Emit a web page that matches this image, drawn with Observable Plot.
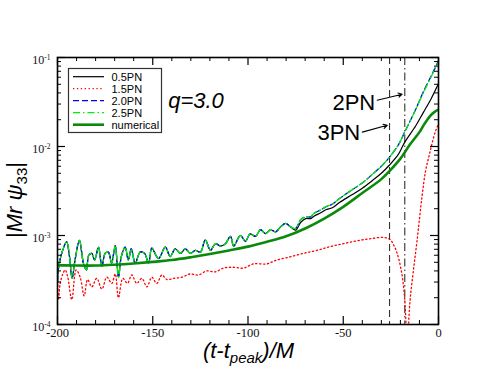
<!DOCTYPE html>
<html><head><meta charset="utf-8">
<script src="https://cdn.jsdelivr.net/npm/d3@7"></script>
<script src="https://cdn.jsdelivr.net/npm/@observablehq/plot@0.6"></script>
<style>body{margin:0;background:#fff}#chart{width:494px;height:382px}</style>
</head><body><div id="chart"></div>
<script>
// ---------- data (t in M, |Mr psi33|) ----------
const inspiralEarly = [
 [-200,3.0e-4],[-199.6,4.1e-4],[-197.8,6.3e-4],[-195.2,8.5e-4],[-193.8,6.0e-4],[-192.3,3.3e-4],
 [-190.8,5.3e-4],[-188.5,8.8e-4],[-186.4,4.9e-4],[-184.8,4.1e-4],[-183.6,6.0e-4],[-182,6.3e-4],
 [-180.5,5.3e-4],[-178.5,7.4e-4],[-176.7,4.5e-4],[-175,6.3e-4],[-173.3,6.5e-4],[-171.6,4.9e-4],
 [-169.7,7.7e-4],[-168,3.4e-4],[-166.5,5.8e-4],[-164.5,7.4e-4],[-162.8,5.3e-4],[-161.3,7.1e-4],
 [-159.2,4.9e-4],[-156.6,6.5e-4],[-154.3,6.3e-4],[-152.2,4.9e-4],[-150.5,7.2e-4],[-147,5.5e-4],
 [-143.4,7.4e-4],[-140.8,5.8e-4],[-138.2,7.1e-4],[-135.5,6.3e-4],[-132.9,7.1e-4],[-130.3,6.3e-4],
 [-127.6,6.8e-4],[-125,6.5e-4],[-122.4,8.9e-4],[-119.7,6.8e-4],[-117.1,8.1e-4],[-114.5,7.6e-4],
 [-111.8,8.1e-4],[-109.2,9.8e-4],[-107.5,7.6e-4],[-104,1.0e-3],[-101.3,8.6e-4],[-99,1.04e-3],
 [-96.1,9.8e-4],[-93.4,1.16e-3],[-90.8,1.05e-3],[-88.2,1.16e-3],[-85.5,1.1e-3],[-82.9,1.25e-3],
 [-80.3,1.37e-3],[-77.6,1.25e-3]
];
const pn05Tail = [
 [-75,1.15e-3],[-72.4,1.4e-3],[-69.7,1.55e-3],[-67.1,1.55e-3],[-65.4,1.65e-3],[-61.8,1.8e-3],
 [-59.2,1.95e-3],[-55.7,2.05e-3],[-52,2.35e-3],[-45,2.9e-3],[-40,3.4e-3],[-35,4.1e-3],
 [-30,5.0e-3],[-25.7,6.2e-3],[-21,8.2e-3],[-17.7,1.12e-2],[-12,1.7e-2],[-8,2.4e-2],[-4,3.4e-2],[0,5.1e-2]
];
const pn20Tail = [
 [-75,1.2e-3],[-72.4,1.5e-3],[-69.7,1.62e-3],[-67.1,1.62e-3],[-65.4,1.77e-3],[-61.8,1.94e-3],
 [-59.2,2.1e-3],[-55.7,2.25e-3],[-52,2.6e-3],[-45,3.3e-3],[-40,3.9e-3],[-35,4.8e-3],
 [-30,6.0e-3],[-25.7,7.6e-3],[-21,1.05e-2],[-17.7,1.46e-2],[-12,2.6e-2],[-8,4.1e-2],[-4,6.1e-2],[0,9.2e-2]
];
const pn25Tail = [
 [-75,1.2e-3],[-72.4,1.5e-3],[-69.7,1.62e-3],[-67.1,1.62e-3],[-65.4,1.77e-3],[-61.8,1.94e-3],
 [-59.2,2.1e-3],[-55.7,2.25e-3],[-52,2.6e-3],[-45,3.3e-3],[-40,3.9e-3],[-35,4.8e-3],
 [-30,6.0e-3],[-25.7,7.6e-3],[-21,1.05e-2],[-17.7,1.46e-2],[-12,2.6e-2],[-8,4.0e-2],[-4,6.0e-2],[0,9.0e-2]
];
const pn15 = [
 [-200,3.4e-4],[-199.5,1.9e-4],[-198.6,2.9e-4],[-197.2,3.7e-4],[-196,4.1e-4],[-194.6,3.4e-4],
 [-192.5,1.9e-4],[-190.2,4.1e-4],[-188.1,3.4e-4],[-186,2.1e-4],[-184.2,3.2e-4],[-182,2.65e-4],
 [-179.4,3.3e-4],[-176.7,2.5e-4],[-174.1,3.4e-4],[-171.5,2.9e-4],[-169.7,3.7e-4],[-168,2.0e-4],
 [-165.7,3.3e-4],[-163.3,2.9e-4],[-161,3.6e-4],[-158.4,2.9e-4],[-155.7,3.3e-4],[-153.1,2.65e-4],
 [-150.5,3.4e-4],[-147.9,2.9e-4],[-145.2,3.6e-4],[-142.6,3.2e-4],[-139.1,3.3e-4],[-134.7,3.4e-4],
 [-130.4,3.7e-4],[-126,3.6e-4],[-121.6,4.0e-4],[-117.2,3.9e-4],[-112.9,4.3e-4],[-107.6,4.4e-4],
 [-102.4,4.3e-4],[-97.1,4.8e-4],[-90.1,4.8e-4],[-84.9,5.3e-4],[-77.9,5.75e-4],[-70.9,6.3e-4],
 [-63.9,6.8e-4],[-56.9,7.5e-4],[-49.9,8.1e-4],[-42.9,8.7e-4],[-35.9,9.2e-4],[-28.9,9.5e-4],
 [-25.4,9.0e-4],[-23.5,7.8e-4],[-21.7,6.3e-4],[-19.6,4.1e-4],[-18.2,2.5e-4],[-17.2,1.2e-4],
 [-16.4,3e-5],[-15.6,1.1e-4],[-14.8,2.0e-4],[-13.2,4.0e-4],[-11.2,9e-4],[-8.6,2.8e-3],
 [-6.8,5.3e-3],[-5,7.8e-3],[-3.3,1.1e-2],[-1.5,1.5e-2],[0,1.8e-2]
];
const numerical = [
 [-200,4.65e-4],[-190,4.6e-4],[-180,4.6e-4],[-170,4.7e-4],[-160,4.85e-4],[-150,5.05e-4],
 [-140,5.3e-4],[-130,5.7e-4],[-120,6.2e-4],[-110,6.8e-4],[-100,7.5e-4],[-90,8.5e-4],
 [-80,9.8e-4],[-70,1.2e-3],[-60,1.55e-3],[-50,2.1e-3],[-40,3.0e-3],[-30,4.3e-3],[-25,5.5e-3],
 [-20,7.3e-3],[-15,1.05e-2],[-10,1.45e-2],[-7.7,1.75e-2],[-4,2.25e-2],[-2,2.45e-2],[0,2.6e-2]
];
const pnMarkers = [-25.7, -17.7];            // 3PN (dashed) and 2PN (dash-dot) vertical lines
const labels = [
 {t:-141.9, v:3.23e-2, text:"q=3.0", anchor:"start", style:"italic"},
 {t:-33.2,  v:3.07e-2, text:"2PN",   anchor:"end",   style:"normal"},
 {t:-41.1,  v:1.41e-2, text:"3PN",   anchor:"end",   style:"normal"}
];
const arrows = [
 {t1:-32.2, v1:3.31e-2, t2:-19.05, v2:3.87e-2},
 {t1:-40.0, v1:1.45e-2, t2:-26.9,  v2:1.73e-2}
];
const xTicks = [-200,-150,-100,-50,0];
const yTicks = [1e-4,1e-3,1e-2,1e-1];
const legendNames = ["0.5PN","1.5PN","2.0PN","2.5PN","numerical"];

const pn05 = inspiralEarly.concat(pn05Tail);
const pn20 = inspiralEarly.concat(pn20Tail);
const pn25 = inspiralEarly.concat(pn25Tail);

// ---------- layout ----------
const W=494, H=382, mL=57, mR=56, mT=57, mB=58;
const iw=W-mL-mR, ih=H-mT-mB;
const xMinor = d3.range(-200, 1, 10).filter(d => !xTicks.includes(d));
const yMinor = [];
for (const e of [-4,-3,-2]) for (let k=2;k<=9;k++) yMinor.push(k*Math.pow(10,e));
const serif = "'Liberation Serif','Times New Roman',serif";
const sans = "'Liberation Sans',Arial,Helvetica,sans-serif";
const X = d => d[0], Y = d => d[1];
const styles = {
  pn05: {stroke:"#000", strokeWidth:1.2},
  pn15: {stroke:"#ff0000", strokeWidth:1.3, strokeDasharray:"1.3,2.6"},
  pn20: {stroke:"#0000ff", strokeWidth:1.3, strokeDasharray:"6,3"},
  pn25: {stroke:"#00ee00", strokeWidth:1.3, strokeDasharray:"7,3,1.5,3"},
  num:  {stroke:"#0a8a0a", strokeWidth:2.6}
};

const plot = Plot.plot({
  width: W, height: H,
  marginLeft: mL, marginRight: mR, marginTop: mT, marginBottom: mB,
  style: {background: "white", overflow: "visible", color: "#000"},
  x: {domain: [-200, 0]},
  y: {type: "log", domain: [1e-4, 1e-1]},
  marks: [
    Plot.ruleX([pnMarkers[0]], {stroke:"#333", strokeWidth:1.1, strokeDasharray:"7,4"}),
    Plot.ruleX([pnMarkers[1]], {stroke:"#333", strokeWidth:1.1, strokeDasharray:"8,3,1.5,3"}),
    Plot.line(pn05, {x:X, y:Y, curve:"catmull-rom", ...styles.pn05, clip:true}),
    Plot.line(pn15, {x:X, y:Y, curve:"catmull-rom", ...styles.pn15, clip:true}),
    Plot.line(pn20, {x:X, y:Y, curve:"catmull-rom", ...styles.pn20, clip:true}),
    Plot.line(pn25, {x:X, y:Y, curve:"catmull-rom", ...styles.pn25, clip:true}),
    Plot.line(numerical, {x:X, y:Y, curve:"catmull-rom", ...styles.num, clip:true}),
    // ticks (inward, all four sides)
    Plot.tickX(xTicks, {x:d=>d, insetTop: ih-8, stroke:"#000", strokeWidth:1.2}),
    Plot.tickX(xMinor, {x:d=>d, insetTop: ih-4, stroke:"#000"}),
    Plot.tickX(xTicks, {x:d=>d, insetBottom: ih-8, stroke:"#000", strokeWidth:1.2}),
    Plot.tickX(xMinor, {x:d=>d, insetBottom: ih-4, stroke:"#000"}),
    Plot.tickY(yTicks, {y:d=>d, insetRight: iw-8, stroke:"#000", strokeWidth:1.2}),
    Plot.tickY(yMinor, {y:d=>d, insetRight: iw-4, stroke:"#000"}),
    Plot.tickY(yTicks, {y:d=>d, insetLeft: iw-8, stroke:"#000", strokeWidth:1.2}),
    Plot.tickY(yMinor, {y:d=>d, insetLeft: iw-4, stroke:"#000"}),
    Plot.frame({stroke:"#000", strokeWidth:1.6}),
    Plot.axisX(xTicks, {tickSize:0, tickPadding:4, tickFormat:d=>String(d), label:null,
      fontSize:12.5, fontFamily:serif, fill:"#111"}),
    Plot.axisY(yTicks, {tickSize:0, tickPadding:7, tickFormat:d=>"10|"+Math.round(Math.log10(d)),
      label:null, fontSize:12, fontFamily:serif, fill:"#111", dy:3}),
    Plot.text(labels, {x:"t", y:"v", text:"text", fontSize:22, fontFamily:sans, fill:"#000"}),
    Plot.arrow(arrows, {x1:"t1", y1:"v1", x2:"t2", y2:"v2", stroke:"#000", strokeWidth:1.1,
      headLength:6, bend:0})
  ]
});
document.getElementById("chart").appendChild(plot);
const svg = d3.select(plot);

// anchor/style per annotation label
svg.selectAll('g[aria-label="text"] text').each(function(d, i){
  d3.select(this).attr("text-anchor", labels[i].anchor).attr("font-style", labels[i].style);
});

// y tick labels with superscript
svg.selectAll('g[aria-label="y-axis tick label"] text').each(function(){
  const t = d3.select(this); const [b, e] = t.text().split("|");
  t.text(null).attr("fill", "#111");
  t.append("tspan").attr("fill","#111").text(b);
  t.append("tspan").attr("fill","#111").attr("font-size", 7.5).attr("dy", "-0.6em").text(e);
});

// axis titles
const xt = svg.append("text").attr("x", mL+iw/2+1).attr("y", 358)
  .attr("text-anchor","middle").attr("font-family",sans).attr("font-size",22)
  .attr("font-style","italic").attr("fill","#000");
xt.append("tspan").text("(t-t");
xt.append("tspan").attr("font-size",15).attr("dy",5).text("peak");
xt.append("tspan").attr("dy",-5).text(")/M");

const yt = svg.append("text").attr("transform","translate(22,200) rotate(-90)")
  .attr("text-anchor","middle").attr("font-family",sans).attr("font-size",22).attr("fill","#000");
yt.append("tspan").text("|");
yt.append("tspan").attr("font-style","italic").text("Mr ");
yt.append("tspan").attr("font-style","italic").text("ψ");
yt.append("tspan").attr("font-size",15).attr("dy",5).text("33");
yt.append("tspan").attr("dy",-5).text("|");

// legend
const lg = svg.append("g");
lg.append("rect").attr("x",68.5).attr("y",68.5).attr("width",93).attr("height",64)
  .attr("fill","white").attr("stroke","#333").attr("stroke-width",1.2);
const legStyles = [styles.pn05, styles.pn15, styles.pn20, styles.pn25, styles.num];
legendNames.forEach((name, i) => {
  const y = 76.7 + 12*i, s = legStyles[i];
  lg.append("line").attr("x1",73).attr("x2",104).attr("y1",y).attr("y2",y)
    .attr("stroke",s.stroke).attr("stroke-width",s.strokeWidth)
    .attr("stroke-dasharray",s.strokeDasharray || null);
  lg.append("text").attr("x",111.5).attr("y",y+4).attr("text-anchor","start")
    .attr("font-family",sans).attr("font-size",11).attr("fill","#000").text(name);
});
</script></body></html>
